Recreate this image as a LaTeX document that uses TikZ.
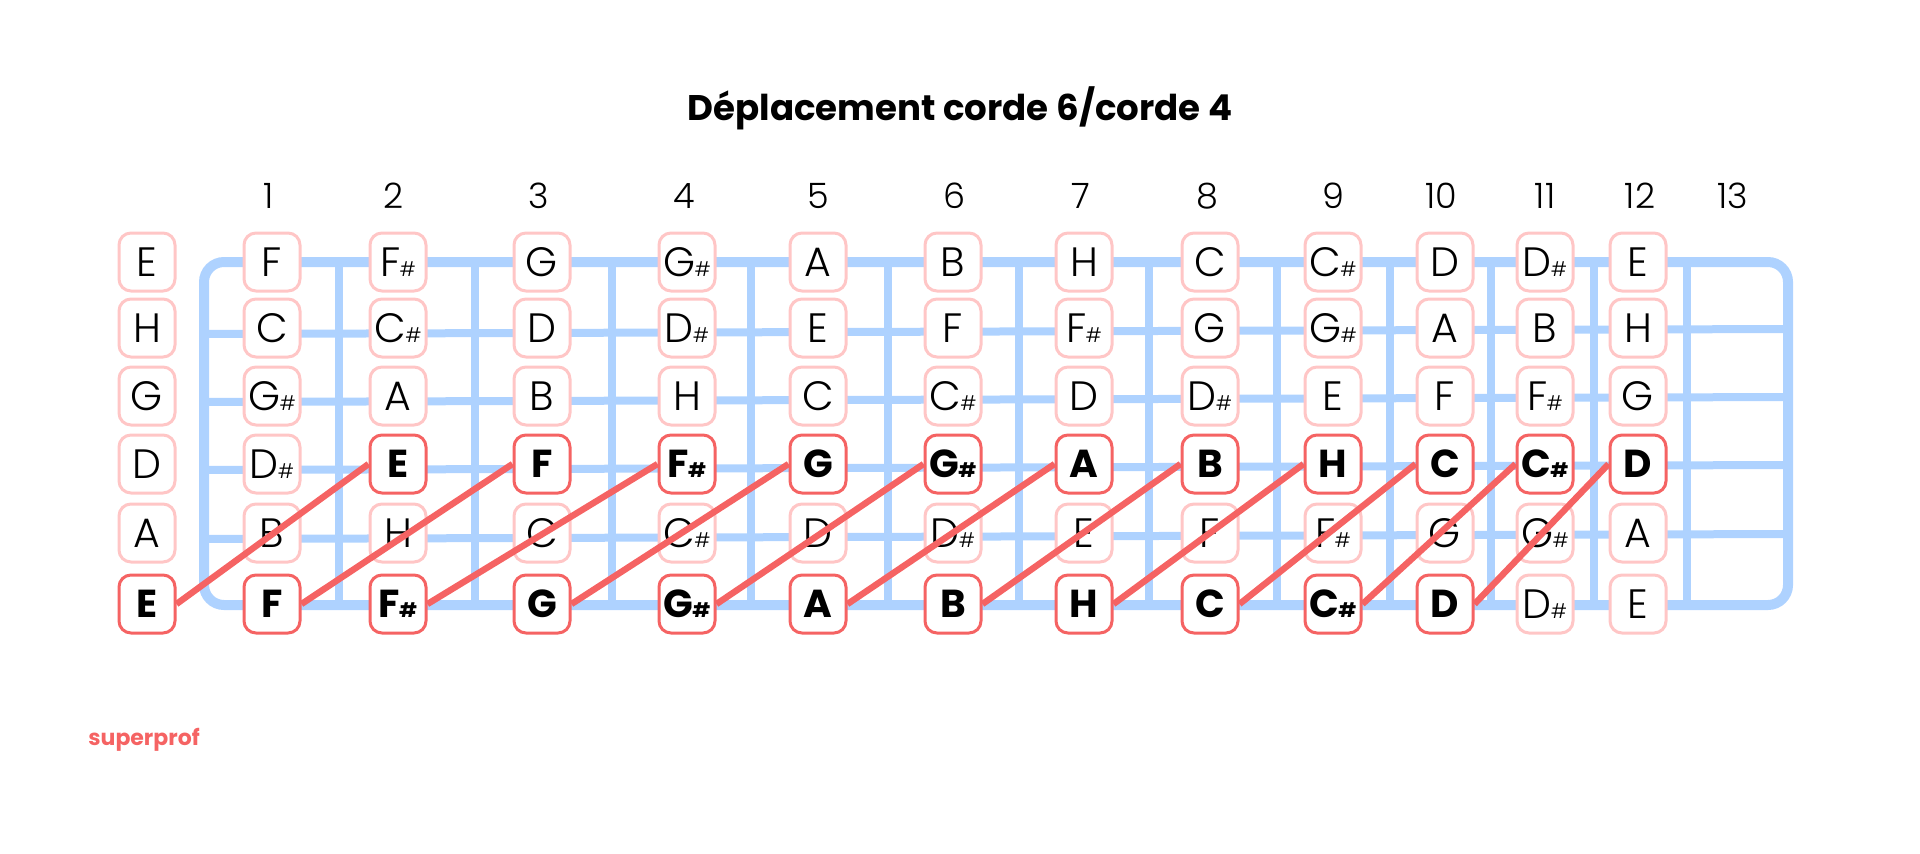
\documentclass[tikz,border=0pt]{standalone}
\usepackage{fontspec}
\setmainfont{Poppins}
\newfontfamily\lightfont{Poppins Light}
\definecolor{fretblue}{HTML}{AED2FF}
\definecolor{lightred}{HTML}{FFC6C6}
\definecolor{boldred}{HTML}{F56363}
\newcommand{\shp}{\kern-0.02em{\fontsize{10}{10}\selectfont\#}}
\begin{document}
\begin{tikzpicture}[x=0.5pt,y=-0.5pt,
  notebox/.style={draw=lightred, line width=1.5pt, fill=white, rounded corners=6pt,
    minimum width=28pt, minimum height=29pt, inner sep=0pt,
    font=\fontsize{20.5}{20.5}\selectfont\lightfont},
  hotbox/.style={notebox, draw=boldred, font=\fontsize{19.5}{19.5}\selectfont\bfseries},
  fretline/.style={draw=fretblue, line width=4pt},
  link/.style={draw=boldred, line width=3.2pt},
  fretnum/.style={font=\fontsize{17.5}{17.5}\selectfont\lightfont, inner sep=0pt}
]
\useasboundingbox (0,0) rectangle (1920,853);
\def\cx{{147,272,398,542,687,818,953,1084,1210,1333,1445,1545,1638}}

% title
\node[font=\fontsize{17.8}{18}\selectfont\bfseries] (title) at (960,108) {Déplacement corde 6/corde 4};

% fret numbers
\foreach \x [count=\i] in {269,394,539,684,818,954,1081,1207,1333,1441,1545,1640,1733}
  \node[fretnum] (fn\i) at (\x,196) {\i};

% fretboard
\foreach \y in {328,396,464,533}
  \draw[fretline] (204,\y+6) -- (1788,\y+1);
\foreach \x in {339,475,612,751,888,1019,1149,1277,1390,1491,1594,1687}
  \draw[fretline] (\x,262) -- (\x,606);
\draw[draw=fretblue, line width=5pt, rounded corners=10pt] (204,262) rectangle (1788,605);

% string 1
\foreach \n [count=\c from 0] in {E,F,F\shp,G,G\shp,A,B,H,C,C\shp,D,D\shp,E}
  \node[notebox] (a\c) at ({\cx[\c]},262) {\n};
% string 2
\foreach \n [count=\c from 0] in {H,C,C\shp,D,D\shp,E,F,F\shp,G,G\shp,A,B,H}
  \node[notebox] (b\c) at ({\cx[\c]},328) {\n};
% string 3
\foreach \n [count=\c from 0] in {G,G\shp,A,B,H,C,C\shp,D,D\shp,E,F,F\shp,G}
  \node[notebox] (g\c) at ({\cx[\c]},396) {\n};
% string 4
\foreach \n [count=\c from 0] in {D,D\shp}
  \node[notebox] (d\c) at ({\cx[\c]},464) {\n};
\foreach \n [count=\c from 2] in {E,F,F\shp,G,G\shp,A,B,H,C,C\shp,D}
  \node[hotbox] (d\c) at ({\cx[\c]},464) {\n};
% string 5
\foreach \n [count=\c from 0] in {A,B,H,C,C\shp,D,D\shp,E,F,F\shp,G,G\shp,A}
  \node[notebox] (f\c) at ({\cx[\c]},533) {\n};
% string 6
\foreach \n [count=\c from 0] in {E,F,F\shp,G,G\shp,A,B,H,C,C\shp,D}
  \node[hotbox] (e\c) at ({\cx[\c]},604) {\n};
\foreach \n [count=\c from 11] in {D\shp,E}
  \node[notebox] (e\c) at ({\cx[\c]},604) {\n};

% connectors
\foreach \c [evaluate=\c as \t using {int(\c+2)}] in {0,...,10}
  \draw[link] (e\c.east) -- (d\t.west);

% logo
\node[font=\fontsize{11}{11}\selectfont\bfseries, text=boldred, anchor=west, inner sep=0pt] (logo) at (88,740) {superprof};
\end{tikzpicture}
\end{document}
